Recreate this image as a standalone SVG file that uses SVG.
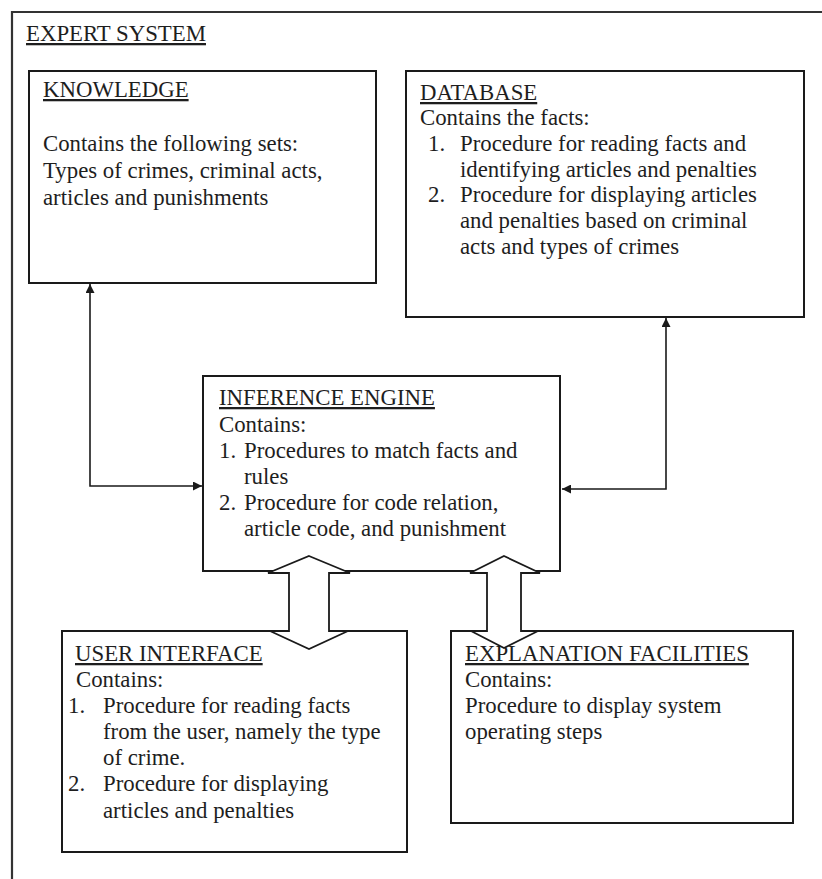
<svg xmlns="http://www.w3.org/2000/svg" width="822" height="879" viewBox="0 0 822 879">
<defs>
<style>
text{font-family:"Liberation Serif","Times New Roman",serif;font-size:22.8px;fill:#1e1e1e}
.h{text-decoration:underline}
.box{fill:none;stroke:#1a1a1a;stroke-width:2}
.conn{fill:none;stroke:#1a1a1a;stroke-width:1.6}
.blk{fill:#fff;stroke:#1a1a1a;stroke-width:1.8;stroke-linejoin:miter}
</style>
<marker id="ah" viewBox="0 0 10 10" refX="10" refY="5" markerWidth="9" markerHeight="9" markerUnits="userSpaceOnUse" orient="auto-start-reverse">
<path d="M0,0 L10,5 L0,10 z" fill="#1a1a1a"/>
</marker>
</defs>
<rect width="822" height="879" fill="#fff"/>
<g id="frame">
<path d="M12,879 V12 H830" fill="none" stroke="#333" stroke-width="2.2"/>
<text x="26" y="41" class="h">EXPERT SYSTEM</text>
</g>
<g id="knowledge">
<rect class="box" x="29" y="71" width="347" height="212"/>
<text x="43" y="97" class="h">KNOWLEDGE</text>
<text x="43" y="151">Contains the following sets:</text>
<text x="43" y="178">Types of crimes, criminal acts,</text>
<text x="43" y="205">articles and punishments</text>
</g>
<g id="database">
<rect class="box" x="406" y="71" width="398" height="246"/>
<text x="420" y="100" class="h">DATABASE</text>
<text x="420" y="125">Contains the facts:</text>
<text x="428" y="151">1.</text>
<text x="460" y="151">Procedure for reading facts and</text>
<text x="460" y="177">identifying articles and penalties</text>
<text x="428" y="202">2.</text>
<text x="460" y="202">Procedure for displaying articles</text>
<text x="460" y="228">and penalties based on criminal</text>
<text x="460" y="254">acts and types of crimes</text>
</g>
<g id="inference">
<rect class="box" x="203" y="376" width="357" height="195"/>
<text x="219" y="405" class="h">INFERENCE ENGINE</text>
<text x="219" y="432">Contains:</text>
<text x="219" y="458">1.</text>
<text x="244" y="458">Procedures to match facts and</text>
<text x="244" y="484">rules</text>
<text x="219" y="510">2.</text>
<text x="244" y="510">Procedure for code relation,</text>
<text x="244" y="536">article code, and punishment</text>
</g>
<g id="user-interface">
<rect class="box" x="62" y="631" width="345" height="221"/>
<text x="75" y="661" class="h">USER INTERFACE</text>
<text x="76" y="687">Contains:</text>
<text x="68" y="713">1.</text>
<text x="103" y="713">Procedure for reading facts</text>
<text x="103" y="739">from the user, namely the type</text>
<text x="103" y="765">of crime.</text>
<text x="68" y="791">2.</text>
<text x="103" y="791">Procedure for displaying</text>
<text x="103" y="818">articles and penalties</text>
</g>
<g id="explanation">
<rect class="box" x="451" y="631" width="342" height="192"/>
<text x="465" y="661" class="h">EXPLANATION FACILITIES</text>
<text x="465" y="687">Contains:</text>
<text x="465" y="713">Procedure to display system</text>
<text x="465" y="739">operating steps</text>
</g>
<g id="connectors">
<path class="conn" d="M90,284 V486 H202" marker-start="url(#ah)" marker-end="url(#ah)"/>
<path class="conn" d="M666,318 V489 H562" marker-start="url(#ah)" marker-end="url(#ah)"/>
<path class="blk" d="M309,556 L350,573 H329 V631 H348 L309,649 L270,631 H289 V573 H268 Z"/>
<path class="blk" d="M504,556 L540,573 H521 V631 H538 L504,648 L471,631 H487 V573 H470 Z"/>
</g>
</svg>
